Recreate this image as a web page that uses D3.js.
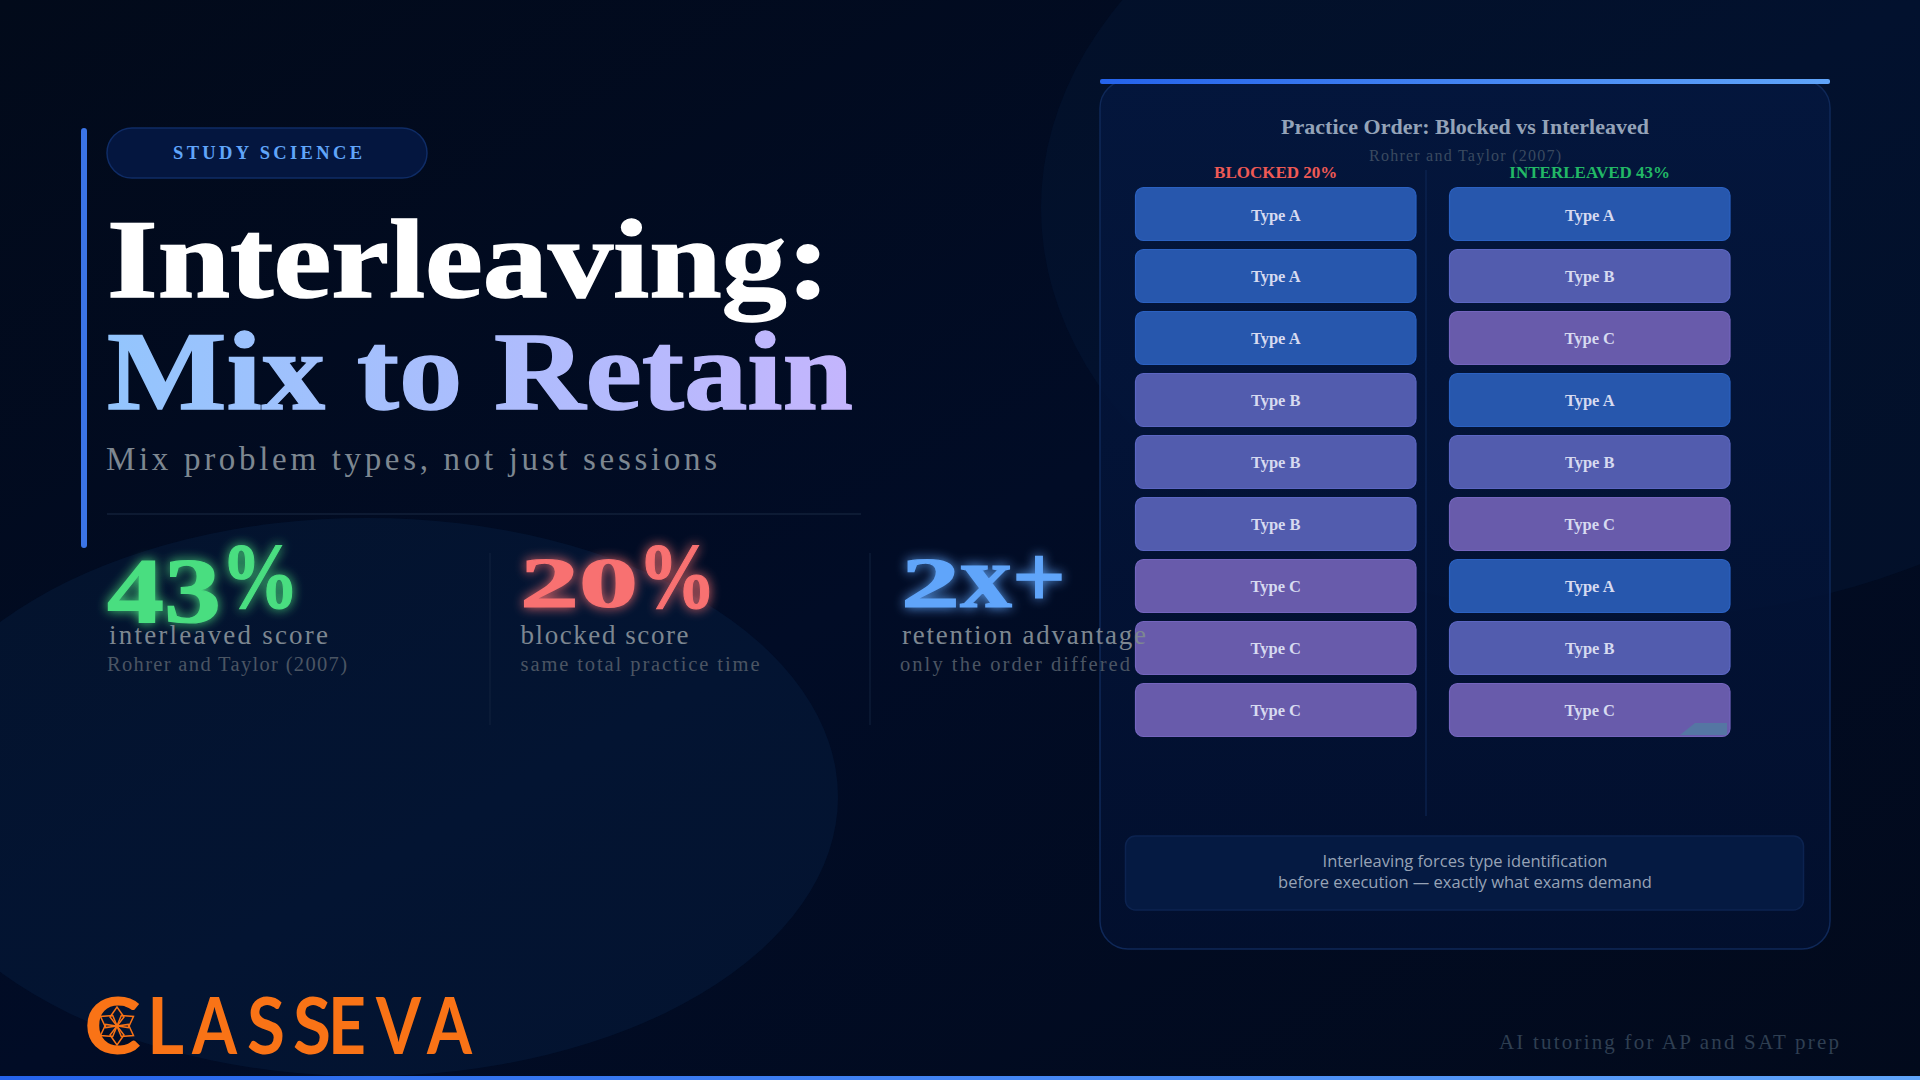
<!DOCTYPE html>
<html>
<head>
<meta charset="utf-8">
<style>
  html, body { margin: 0; padding: 0; background: #020b1e; }
  svg { display: block; }
</style>
</head>
<body>
<svg id="chart" width="1920" height="1080"></svg>
<script src="https://cdn.jsdelivr.net/npm/d3@7/dist/d3.min.js"></script>
<script>
// practice order per column, top to bottom
const blockedOrder = ['A', 'A', 'A', 'B', 'B', 'B', 'C', 'C', 'C']
const interleavedOrder = ['A', 'B', 'C', 'A', 'B', 'C', 'A', 'B', 'C']
const columnNames = ['BLOCKED 20%', 'INTERLEAVED 43%']
const columnColors = ['#ef5a55', '#22b866']
const typeNames = ['A', 'B', 'C']
const typeColors = ['#2757ad', '#525cae', '#685bab']

// stat blocks under the title
const statValues = ['43%', '20%', '2x+']
const statLabels = ['interleaved score', 'blocked score', 'retention advantage']
const statNotes = ['Rohrer and Taylor (2007)', 'same total practice time', 'only the order differed']
const statColors = ['#4ade80', '#f87171', '#60a5fa']

const serif = "'Liberation Serif', serif"

const svg = d3.select('#chart')
const defs = svg.append('defs')

const bg = defs.append('linearGradient').attr('id', 'bg')
  .attr('x1', 0).attr('y1', 0).attr('x2', 1).attr('y2', 1)
bg.append('stop').attr('offset', '0%').attr('stop-color', '#020a1a')
bg.append('stop').attr('offset', '50%').attr('stop-color', '#010c26')
bg.append('stop').attr('offset', '100%').attr('stop-color', '#020a1c')

const titleGrad = defs.append('linearGradient').attr('id', 'titleGrad')
  .attr('gradientUnits', 'userSpaceOnUse').attr('x1', 108).attr('x2', 852).attr('y1', 0).attr('y2', 0)
titleGrad.append('stop').attr('offset', '0%').attr('stop-color', '#93c5fd')
titleGrad.append('stop').attr('offset', '100%').attr('stop-color', '#c4b5fd')

const barGrad = defs.append('linearGradient').attr('id', 'barGrad')
barGrad.append('stop').attr('offset', '0%').attr('stop-color', '#2563eb')
barGrad.append('stop').attr('offset', '100%').attr('stop-color', '#60a5fa')

const panelGrad = defs.append('linearGradient').attr('id', 'panelGrad')
  .attr('x1', 0).attr('y1', 0).attr('x2', 0).attr('y2', 1)
panelGrad.append('stop').attr('offset', '0%').attr('stop-color', '#04173f')
panelGrad.append('stop').attr('offset', '100%').attr('stop-color', '#021030')

statColors.forEach((c, i) => {
  const f = defs.append('filter').attr('id', `glow${i}`)
    .attr('x', '-30%').attr('y', '-30%').attr('width', '160%').attr('height', '160%')
  f.append('feGaussianBlur').attr('stdDeviation', 6).attr('result', 'b')
  f.append('feComponentTransfer').attr('in', 'b').attr('result', 'halo')
    .append('feFuncA').attr('type', 'linear').attr('slope', 0.95)
  const m = f.append('feMerge')
  m.append('feMergeNode').attr('in', 'halo')
  m.append('feMergeNode').attr('in', 'SourceGraphic')
})

svg.append('rect').attr('width', 1920).attr('height', 1080).attr('fill', 'url(#bg)')
svg.append('ellipse').attr('cx', 1629).attr('cy', 208).attr('rx', 588).attr('ry', 410)
  .attr('fill', '#0f3060').attr('opacity', 0.15)
svg.append('ellipse').attr('cx', 367).attr('cy', 797).attr('rx', 471).attr('ry', 279)
  .attr('fill', '#0f3060').attr('opacity', 0.22)

// panel
svg.append('rect').attr('x', 1100).attr('y', 80).attr('width', 730).attr('height', 869).attr('rx', 28)
  .attr('fill', 'url(#panelGrad)').attr('fill-opacity', 0.85).attr('stroke', '#0f2858').attr('stroke-width', 1.5)
svg.append('rect').attr('x', 1100).attr('y', 79).attr('width', 730).attr('height', 5).attr('rx', 2).attr('fill', 'url(#barGrad)')
svg.append('text').attr('x', 1465).attr('y', 134).attr('text-anchor', 'middle').attr('font-family', serif)
  .attr('font-weight', 700).attr('font-size', 22).attr('fill', '#94a3b8').text('Practice Order: Blocked vs Interleaved')
svg.append('text').attr('x', 1369).attr('y', 161).attr('font-family', serif)
  .attr('font-size', 16).attr('textLength', 192).attr('fill', '#3a4a60').text('Rohrer and Taylor (2007)')

const columnX = d3.scaleBand().domain(columnNames).range([1135.5, 1730]).paddingInner(0.1067).paddingOuter(0)
const rowY = d3.scaleBand().domain(d3.range(blockedOrder.length)).range([187.5, 736.5]).paddingInner(0.145).paddingOuter(0)
const typeColor = d3.scaleOrdinal().domain(typeNames).range(typeColors)

svg.append('line').attr('x1', 1426).attr('x2', 1426).attr('y1', 170).attr('y2', 816)
  .attr('stroke', '#0f2858').attr('stroke-width', 1)

const columns = svg.selectAll('g.col').data([blockedOrder, interleavedOrder]).join('g').attr('class', 'col')
  .attr('transform', (d, i) => `translate(${columnX(columnNames[i])},0)`)
columns.append('text').attr('x', columnX.bandwidth() / 2).attr('y', 178).attr('text-anchor', 'middle')
  .attr('font-family', serif).attr('font-weight', 700).attr('font-size', 17)
  .attr('fill', (d, i) => columnColors[i]).text((d, i) => columnNames[i])
const cells = columns.selectAll('g.cell').data(d => d).join('g').attr('class', 'cell')
  .attr('transform', (d, i) => `translate(0,${rowY(i)})`)
cells.append('rect').attr('width', columnX.bandwidth()).attr('height', rowY.bandwidth()).attr('rx', 8)
  .attr('fill', d => typeColor(d)).attr('stroke', d => d3.color(typeColor(d)).brighter(0.3)).attr('stroke-width', 1.2)
cells.append('text').attr('x', columnX.bandwidth() / 2).attr('y', rowY.bandwidth() / 2 + 6.5).attr('text-anchor', 'middle')
  .attr('font-family', serif).attr('font-weight', 700).attr('font-size', 16.5).attr('fill', '#d6daf0').text(d => `Type ${d}`)

// dithered corner patch in the last cell
svg.append('path').attr('d', 'M1680,735 L1695,723 L1727,723 L1727,735 Z').attr('fill', '#4f7fa0').attr('opacity', 0.75)

// note
svg.append('rect').attr('x', 1125.5).attr('y', 836).attr('width', 678).attr('height', 74).attr('rx', 10)
  .attr('fill', '#051a42').attr('stroke', '#0c2350').attr('stroke-width', 1.5)
svg.append('text').attr('x', 1465).attr('y', 867).attr('text-anchor', 'middle').attr('font-family', "'Open Sans', sans-serif")
  .attr('font-size', 16.5).attr('font-weight', 500).attr('fill', '#97a3b6').text('Interleaving forces type identification')
svg.append('text').attr('x', 1465).attr('y', 888).attr('text-anchor', 'middle').attr('font-family', "'Open Sans', sans-serif")
  .attr('font-size', 16.5).attr('font-weight', 500).attr('fill', '#97a3b6').text('before execution — exactly what exams demand')

// left column
svg.append('rect').attr('x', 81).attr('y', 128).attr('width', 6).attr('height', 420).attr('rx', 3).attr('fill', '#3b74e6')
svg.append('rect').attr('x', 107).attr('y', 128).attr('width', 320).attr('height', 50).attr('rx', 25)
  .attr('fill', '#04163f').attr('stroke', '#0f2c66').attr('stroke-width', 1.5)
svg.append('text').attr('x', 173).attr('y', 159)
  .attr('font-family', serif).attr('font-weight', 700).attr('font-size', 18.5).attr('textLength', 189)
  .attr('fill', '#60a5fa').text('STUDY SCIENCE')

svg.append('text').attr('x', 107).attr('y', 297).attr('font-family', serif).attr('font-weight', 700)
  .attr('font-size', 113).attr('textLength', 723).attr('lengthAdjust', 'spacingAndGlyphs')
  .attr('fill', '#ffffff').attr('stroke', '#ffffff').attr('stroke-width', 1.5).text('Interleaving:')
svg.append('text').attr('x', 107).attr('y', 409).attr('font-family', serif).attr('font-weight', 700)
  .attr('font-size', 113).attr('textLength', 746).attr('lengthAdjust', 'spacingAndGlyphs')
  .attr('fill', 'url(#titleGrad)').attr('stroke', 'url(#titleGrad)').attr('stroke-width', 1.5).text('Mix to Retain')
svg.append('text').attr('x', 106).attr('y', 470).attr('font-family', serif)
  .attr('font-size', 33).attr('textLength', 611).attr('fill', '#7d8791').text('Mix problem types, not just sessions')
svg.append('line').attr('x1', 107).attr('x2', 861).attr('y1', 514).attr('y2', 514)
  .attr('stroke', '#1a2a44').attr('stroke-width', 1)

svg.selectAll('line.sep').data([490, 870]).join('line').attr('class', 'sep')
  .attr('x1', d => d).attr('x2', d => d).attr('y1', 553).attr('y2', 725)
  .attr('stroke', '#12233f').attr('stroke-width', 1)

// old-style figures: 3 and 4 hang under the baseline, 0 1 2 x sit at x-height
function glyphStyle(ch) {
  if (ch === '3' || ch === '4') return { size: 93, shift: 15, adv: 57 }
  if (ch === '%') return { size: 93, shift: 0, adv: 78 }
  if (ch === 'x') return { size: 88, shift: 0, adv: 52 }
  if (ch === '+') return { size: 88, shift: 0, adv: 54 }
  return { size: 71, shift: 0, adv: 59 }
}
function layoutGlyphs(str) {
  let x = 0
  return Array.from(str).map(ch => {
    const s = glyphStyle(ch)
    const g = { ch, x, ...s }
    x += s.adv
    return g
  })
}

const statLeft = [107, 520, 901]
const labelLeft = [109, 520.5, 902]
const noteLeft = [107, 520.5, 900]
const labelWidth = [219, 168, 244]
const noteWidth = [240, 239, 230]
const statBaseline = 607

const stats = svg.selectAll('g.stat').data(statValues).join('g').attr('class', 'stat')
stats.append('text').attr('font-family', serif).attr('font-weight', 700)
  .attr('fill', (d, i) => statColors[i]).attr('stroke', (d, i) => statColors[i]).attr('stroke-width', 1.2)
  .attr('filter', (d, i) => `url(#glow${i})`)
  .each(function (d, i) {
    d3.select(this).selectAll('tspan').data(layoutGlyphs(d)).join('tspan')
      .attr('x', g => statLeft[i] + g.x).attr('y', g => statBaseline + g.shift)
      .attr('font-size', g => g.size).attr('textLength', g => g.adv).attr('lengthAdjust', 'spacingAndGlyphs')
      .text(g => g.ch)
  })
stats.append('text').attr('x', (d, i) => labelLeft[i]).attr('y', 644).attr('font-family', serif).attr('font-size', 27)
  .attr('textLength', (d, i) => labelWidth[i]).attr('fill', '#7d8791').text((d, i) => statLabels[i])
stats.append('text').attr('x', (d, i) => noteLeft[i]).attr('y', 671).attr('font-family', serif).attr('font-size', 20.5)
  .attr('textLength', (d, i) => noteWidth[i]).attr('fill', '#4b5563').text((d, i) => statNotes[i])

// logo: wordmark letters fitted one by one, flower sitting inside the C
const logoLetters = Array.from('CLASSEVA')
const logoX = [84, 147, 192, 247, 293, 328, 376, 427]
const logoAdv = [57, 37, 45, 38, 38, 38, 45, 45]
svg.append('text').attr('font-family', "'Lato', sans-serif").attr('font-weight', 700).attr('font-size', 78)
  .attr('fill', '#f97316')
  .selectAll('tspan').data(logoLetters).join('tspan')
  .attr('x', (d, i) => logoX[i]).attr('y', 1054)
  .attr('textLength', (d, i) => logoAdv[i]).attr('lengthAdjust', 'spacingAndGlyphs')
  .text(d => d)
const flower = svg.append('g').attr('transform', 'translate(117,1026)')
flower.selectAll('path').data(d3.range(6)).join('path')
  .attr('d', 'M0,0 L-7,-9 L0,-19 L7,-9 Z').attr('transform', d => `rotate(${d * 60})`)
  .attr('fill', 'none').attr('stroke', '#f97316').attr('stroke-width', 1.5)

svg.append('text').attr('x', 1499).attr('y', 1049).attr('font-family', serif)
  .attr('font-size', 21).attr('textLength', 340).attr('fill', '#2f3f52').text('AI tutoring for AP and SAT prep')
svg.append('rect').attr('x', 0).attr('y', 1076).attr('width', 1920).attr('height', 4).attr('fill', 'url(#barGrad)')
</script>
</body>
</html>
